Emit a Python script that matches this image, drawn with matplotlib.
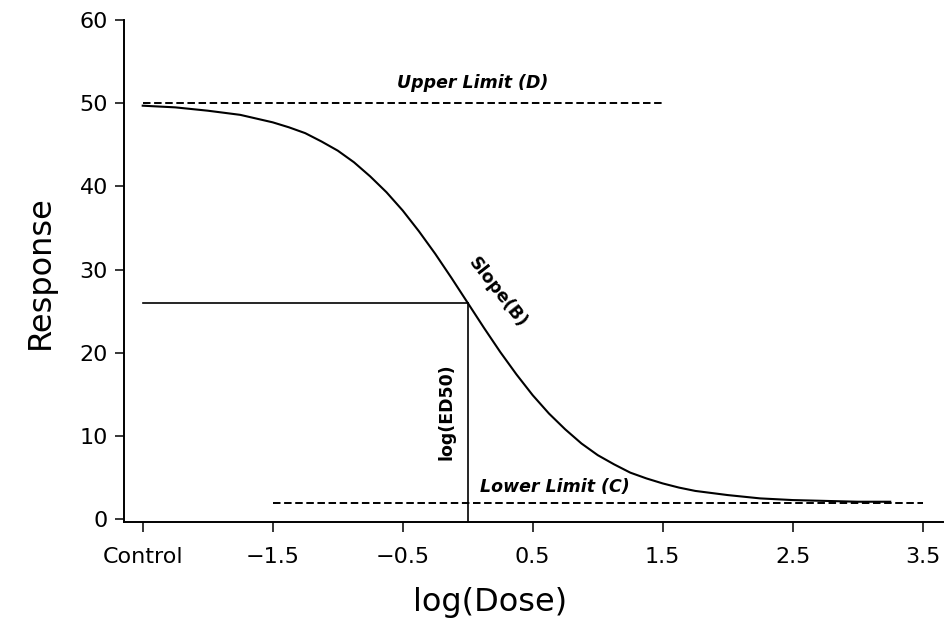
"""
Curva dosis-respuesta (logística de 4 parámetros) con límites y log(ED50).
"""

import matplotlib.pyplot as plt

# ── Datos ──────────────────────────────────────────────────────────────────────
log_dose = [-2.5, -2.25, -2.0, -1.75, -1.5, -1.375, -1.25, -1.125, -1.0,
            -0.875, -0.75, -0.625, -0.5, -0.375, -0.25, -0.125, 0.0,
            0.125, 0.25, 0.375, 0.5, 0.625, 0.75, 0.875, 1.0, 1.125,
            1.25, 1.375, 1.5, 1.625, 1.75, 2.0, 2.25, 2.5, 2.75, 3.0, 3.25]
response = [49.7, 49.5, 49.1, 48.6, 47.7, 47.1, 46.4, 45.4, 44.3,
            42.9, 41.2, 39.3, 37.1, 34.6, 31.9, 29.0, 26.0,
            23.0, 20.1, 17.4, 14.9, 12.7, 10.8, 9.1, 7.7, 6.6,
            5.6, 4.9, 4.3, 3.8, 3.4, 2.9, 2.5, 2.3, 2.2, 2.1, 2.1]

upper_limit = 50       # D
lower_limit = 2        # C
upper_span  = [-2.5, 1.5]
lower_span  = [-1.5, 3.5]
log_ed50    = 0.0
ed50_resp   = 26

xticks      = [-2.5, -1.5, -0.5, 0.5, 1.5, 2.5, 3.5]
xticklabels = ["Control", "\u22121.5", "\u22120.5", "0.5", "1.5", "2.5", "3.5"]
yticks      = [0, 10, 20, 30, 40, 50, 60]

# ── Gráfico ────────────────────────────────────────────────────────────────────
plt.rcParams["font.family"] = "DejaVu Sans"
plt.rcParams["lines.scale_dashes"] = False

fig = plt.figure(figsize=(9.51, 6.34), dpi=100)
ax = fig.add_axes([124 / 951, 1 - 521.7 / 634, 819 / 951, 501.7 / 634])

dash = (0, (5.4, 2.6))
ax.plot(log_dose, response, color="black", linewidth=1.5)
ax.plot(upper_span, [upper_limit, upper_limit], color="black",
        linewidth=1.4, linestyle=dash)
ax.plot(lower_span, [lower_limit, lower_limit], color="black",
        linewidth=1.4, linestyle=dash)
ax.plot([log_dose[0], log_ed50], [ed50_resp, ed50_resp],
        color="black", linewidth=1.2)
ax.plot([log_ed50, log_ed50], [ed50_resp, -0.3],
        color="black", linewidth=1.2)

# Etiquetas dentro del gráfico
ax.text(0.04, 52.4, "Upper Limit (D)", fontsize=12.5, fontweight="bold",
        fontstyle="italic", ha="center", va="center")
ax.text(0.095, 3.9, "Lower Limit (C)", fontsize=12.5, fontweight="bold",
        fontstyle="italic", ha="left", va="center")
ax.text(-0.167, 12.9, "log(ED50)", fontsize=12.5, fontweight="bold",
        rotation=90, ha="center", va="center")
ax.text(0.23, 27.3, "Slope(B)", fontsize=12.5, fontweight="bold",
        rotation=-52, ha="center", va="center", rotation_mode="anchor")

ax.set_xlim(-2.644, 3.656)
ax.set_ylim(-0.3, 60)
ax.set_xticks(xticks)
ax.set_xticklabels(xticklabels)
ax.set_yticks(yticks)
ax.tick_params(axis="x", length=7, width=1.1, pad=11, labelsize=16)
ax.tick_params(axis="y", length=6.5, width=1.1, pad=5, labelsize=16)
ax.spines[["top", "right"]].set_visible(False)
ax.spines[["left", "bottom"]].set_linewidth(1.4)

fig.text(40 / 951, 1 - 272 / 634, "Response", rotation=90,
         ha="center", va="center", fontsize=23)
fig.text(490 / 951, 1 - 602 / 634, "log(Dose)",
         ha="center", va="center", fontsize=23)

plt.savefig("out.png", dpi=100)
plt.close()
